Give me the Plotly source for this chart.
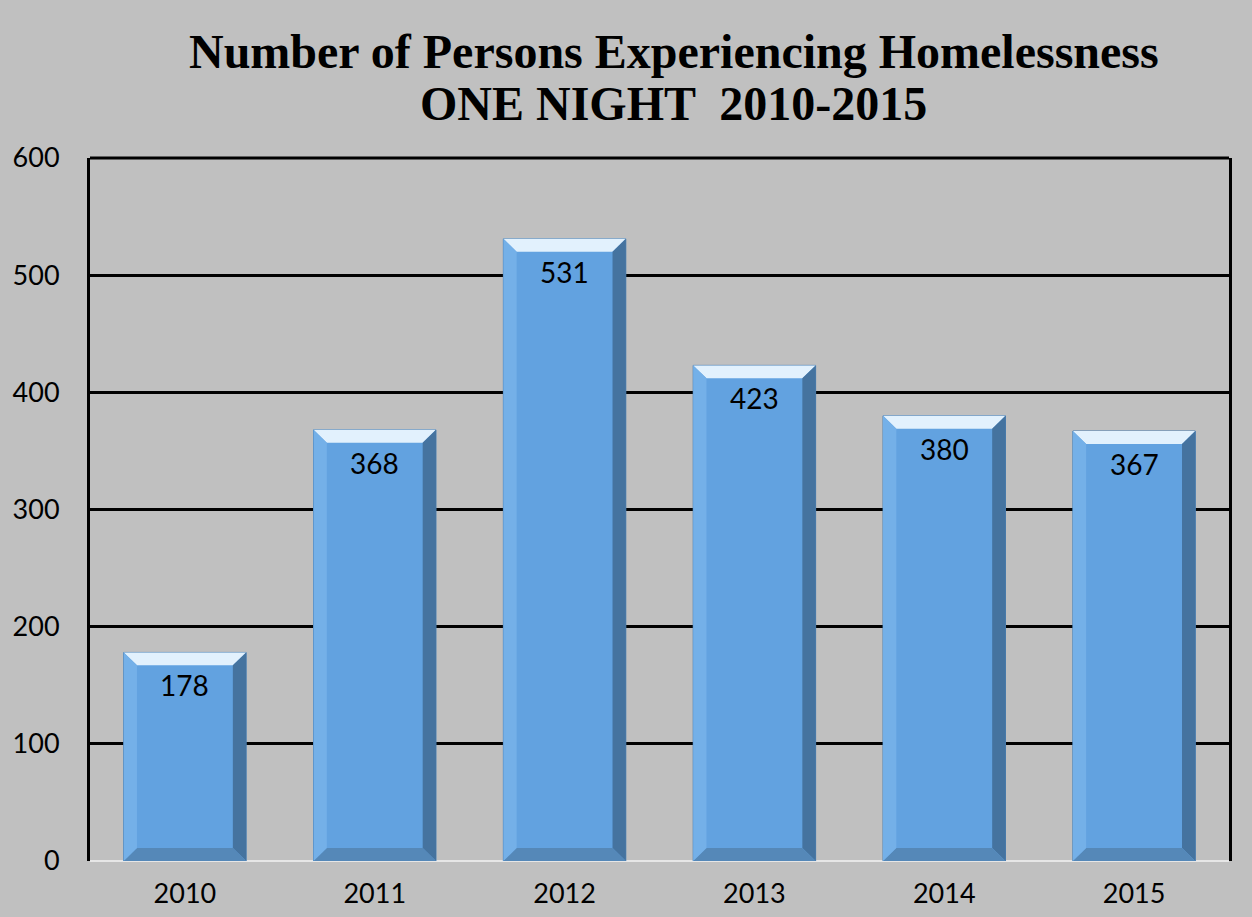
import plotly.graph_objects as go

years = ["2010", "2011", "2012", "2013", "2014", "2015"]
persons = [178, 368, 531, 423, 380, 367]
y_ticks = [0, 100, 200, 300, 400, 500, 600]
title_lines = ["Number of Persons Experiencing Homelessness", "ONE NIGHT  2010-2015"]

BAR_W = 0.645
BG = "#c0c0c0"
BAR = "#62a2e0"
LABEL_FONT = "Lato, Carlito, sans-serif"

fig = go.Figure()
fig.add_trace(go.Bar(
    x=list(range(len(years))), y=persons, width=BAR_W,
    marker=dict(color=BAR, line=dict(color="#4a7fb3", width=1)),
    hoverinfo="x+y", showlegend=False,
))

# bevel decoration derived from the data
dx = 0.07
dy = 11
shapes = []
for i, v in enumerate(persons):
    x0, x1 = i - BAR_W / 2, i + BAR_W / 2
    def poly(pts, color):
        path = "M " + " L ".join(f"{px},{py}" for px, py in pts) + " Z"
        return dict(type="path", path=path, xref="x", yref="y",
                    fillcolor=color, line=dict(width=0), layer="above")
    shapes.append(poly([(x0, v), (x1, v), (x1 - dx, v - dy), (x0 + dx, v - dy)], "#e2f1fd"))
    shapes.append(poly([(x1, v), (x1, 0), (x1 - dx, dy), (x1 - dx, v - dy)], "#45739f"))
    shapes.append(poly([(x0, 0), (x1, 0), (x1 - dx, dy), (x0 + dx, dy)], "#5588b8"))
    shapes.append(poly([(x0, v), (x0, 0), (x0 + dx, dy), (x0 + dx, v - dy)], "#74b0e8"))

# top frame line of the plot area
shapes.append(dict(type="line", xref="paper", yref="paper", x0=0, x1=1, y0=1, y1=1,
                   line=dict(color="black", width=3), layer="above"))

annotations = [
    dict(x=i, y=v, xref="x", yref="y", text=str(v), showarrow=False,
         yanchor="top", yshift=-14,
         font=dict(family=LABEL_FONT, size=28, color="black"))
    for i, v in enumerate(persons)
]
for k, (line, ypos) in enumerate(zip(title_lines, [1.152, 1.077])):
    annotations.append(dict(
        x=0.5127, y=ypos, xref="paper", yref="paper", xanchor="center", yanchor="middle",
        text=f"<b>{line}</b>", showarrow=False,
        font=dict(family="Liberation Serif, Times New Roman, serif", size=48, color="black"),
    ))

fig.update_layout(
    width=1252, height=917,
    paper_bgcolor=BG, plot_bgcolor=BG,
    margin=dict(l=90, r=23, t=158, b=56),
    shapes=shapes,
    annotations=annotations,
    xaxis=dict(
        tickmode="array", tickvals=list(range(len(years))), ticktext=years,
        range=[-0.5, len(years) - 0.5], automargin=False,
        showgrid=False, showline=False, zeroline=False,
        ticks="outside", ticklen=9, tickcolor="rgba(0,0,0,0)",
        tickfont=dict(family=LABEL_FONT, size=27, color="black"),
    ),
    yaxis=dict(
        range=[0, 600], tickvals=y_ticks, automargin=False,
        showgrid=True, gridcolor="black", gridwidth=3,
        zeroline=True, zerolinecolor="#e6e6e6", zerolinewidth=2,
        showline=True, linecolor="black", linewidth=3, mirror=True,
        ticks="outside", ticklen=22, tickcolor="rgba(0,0,0,0)",
        tickfont=dict(family=LABEL_FONT, size=27, color="black"),
    ),
)

fig.write_html("out.html")
